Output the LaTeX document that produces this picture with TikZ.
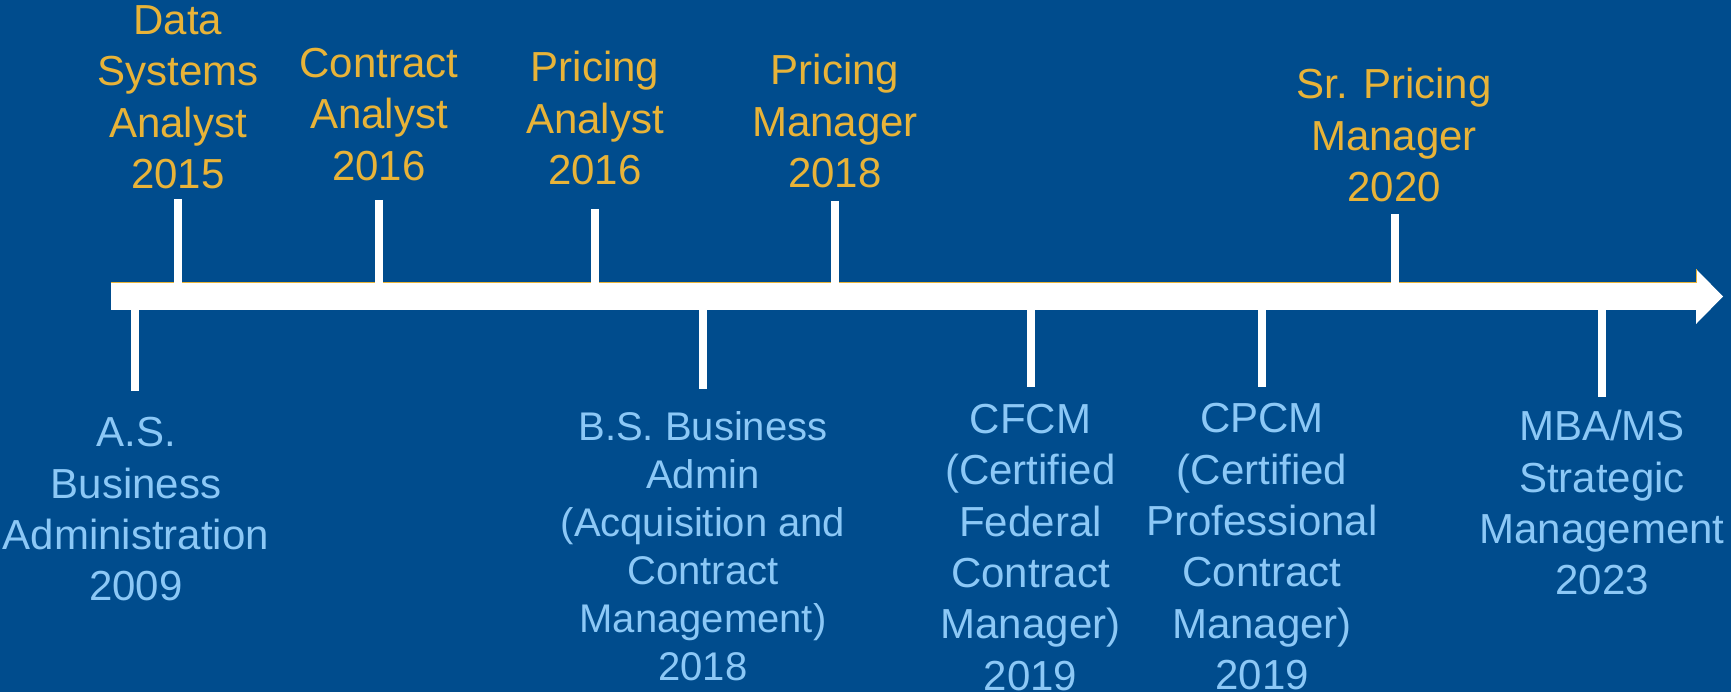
\documentclass[tikz,border=0pt]{standalone}
\usepackage{fontspec}
\setmainfont{Liberation Sans}
\definecolor{bgblue}{RGB}{0,76,141}
\definecolor{gold}{RGB}{232,179,56}
\definecolor{lightblue}{RGB}{140,200,246}
\newcommand\mlines[1]{\vtop{\halign{\hfil##\hfil\cr#1\crcr}}}
\tikzset{
  toplabel/.style={anchor=base, inner sep=0pt, text=gold, font=\fontsize{42pt}{51.4pt}\selectfont},
  botlabel/.style={anchor=base, inner sep=0pt, text=lightblue, font=\fontsize{42pt}{51.4pt}\selectfont},
  tickline/.style={draw=white, line width=8pt},
}
\begin{document}
\begin{tikzpicture}[x=1pt,y=-1pt]
\clip (0,0) rectangle (1731,692);
\fill[bgblue] (0,0) rectangle (1731,692);
% timeline arrow
\fill[white] (111,283) -- (1696,283) -- (1696,269) -- (1723,296.5) -- (1696,324) -- (1696,310) -- (111,310) -- cycle;
\draw[gold, line width=1pt] (111,283) -- (1696,283) -- (1696,269);
% tick anchor coordinates
\coordinate (u1a) at (178,199);   \coordinate (u1b) at (178,285);
\coordinate (u2a) at (379,200);   \coordinate (u2b) at (379,285);
\coordinate (u3a) at (595,209);   \coordinate (u3b) at (595,285);
\coordinate (u4a) at (835,201);   \coordinate (u4b) at (835,285);
\coordinate (u5a) at (1395,214);  \coordinate (u5b) at (1395,285);
\coordinate (l1a) at (135,308);   \coordinate (l1b) at (135,391);
\coordinate (l2a) at (703,308);   \coordinate (l2b) at (703,389);
\coordinate (l3a) at (1030.5,308);\coordinate (l3b) at (1030.5,387);
\coordinate (l4a) at (1262,308);  \coordinate (l4b) at (1262,387);
\coordinate (l5a) at (1601.5,308);\coordinate (l5b) at (1601.5,397);
\foreach \t in {u1,u2,u3,u4,u5,l1,l2,l3,l4,l5} \draw[tickline] (\t a) -- (\t b);
% upper labels
\node[toplabel] (t1) at (178,34.3) {\mlines{Data\cr Systems\cr Analyst\cr 2015}};
\node[toplabel] (t2) at (379,77.5) {\mlines{Contract\cr Analyst\cr 2016}};
\node[toplabel] (t3) at (595,81.7) {\mlines{Pricing\cr Analyst\cr 2016}};
\node[toplabel] (t4) at (835,85) {\mlines{Pricing\cr Manager\cr 2018}};
\node[toplabel] (t5) at (1394,99) {\mlines{Sr. Pricing\cr Manager\cr 2020}};
% lower labels
\node[botlabel] (b1) at (136,446.7) {\mlines{A.S.\cr Business\cr Administration\cr 2009}};
\node[botlabel, font=\fontsize{40pt}{48pt}\selectfont] (b2) at (703,440) {\mlines{B.S. Business\cr Admin\cr (Acquisition and\cr Contract\cr Management)\cr 2018}};
\node[botlabel] (b3) at (1030.5,433.3) {\mlines{CFCM\cr (Certified\cr Federal\cr Contract\cr Manager)\cr 2019}};
\node[botlabel] (b4) at (1262,432.7) {\mlines{CPCM\cr (Certified\cr Professional\cr Contract\cr Manager)\cr 2019}};
\node[botlabel] (b5) at (1602,440.7) {\mlines{MBA/MS\cr Strategic\cr Management\cr 2023}};
\end{tikzpicture}
\end{document}
